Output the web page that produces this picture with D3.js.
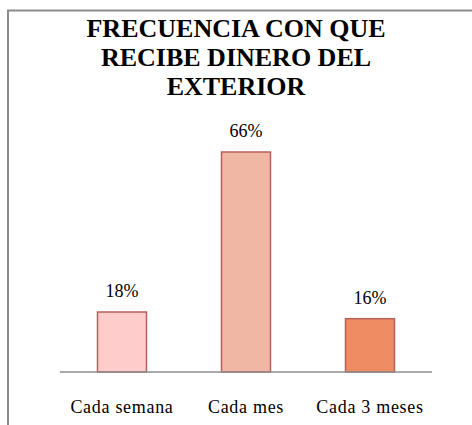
<!DOCTYPE html>
<html>
<head>
<meta charset="UTF-8">
<style>
  body { margin: 0; background: #fff; }
  svg { display: block; }
</style>
</head>
<body>
<svg id="chart" width="472" height="425"></svg>
<script src="https://d3js.org/d3.v7.min.js"></script>
<script>
// chart data
var categories = ["Cada semana", "Cada mes", "Cada 3 meses"];
var values = [18, 66, 16];
var labels = ["18%", "66%", "16%"];
var colors = ["#ffcccc", "#f0b7a5", "#f08c64"];
var titleLines = ["FRECUENCIA CON QUE", "RECIBE DINERO DEL", "EXTERIOR"];

var svg = d3.select("#chart");

// chart frame (only top and left edges show)
svg.append("path")
  .attr("d", "M8,425 V10.5 H472")
  .attr("fill", "none")
  .attr("stroke", "#8c8c8c")
  .attr("stroke-width", 2);

// title
titleLines.forEach(function(line, i) {
  svg.append("text")
    .attr("x", 236)
    .attr("y", 37 + i * 29)
    .attr("text-anchor", "middle")
    .style("font-family", "'Liberation Serif'")
    .attr("font-size", 26)
    .style("font-weight", "bold")
    .attr("fill", "#000")
    .text(line);
});

var x = d3.scaleBand()
  .domain(categories)
  .range([60, 432])
  .padding(0);

var y = d3.scaleLinear()
  .domain([0, 66])
  .range([372, 152]);

var barW = x.bandwidth() * 0.395;

// bars
svg.append("g").selectAll("rect")
  .data(values)
  .enter().append("rect")
    .attr("x", function(d, i) { return x(categories[i]) + x.bandwidth() / 2 - barW / 2; })
    .attr("y", function(d) { return y(d); })
    .attr("width", barW)
    .attr("height", function(d) { return y(0) - y(d); })
    .attr("fill", function(d, i) { return colors[i]; })
    .attr("stroke", "#b5605c")
    .attr("stroke-width", 1.5);

// baseline
svg.append("line")
  .attr("x1", 60).attr("x2", 432)
  .attr("y1", y(0)).attr("y2", y(0))
  .attr("stroke", "#8c8c8c")
  .attr("stroke-width", 1.5);

// value labels
values.forEach(function(v, i) {
  svg.append("text")
    .attr("x", x(categories[i]) + x.bandwidth() / 2)
    .attr("y", y(v) - 15)
    .attr("text-anchor", "middle")
    .style("font-family", "'Liberation Serif'")
    .attr("font-size", 18)
    .attr("fill", "#000")
    .text(labels[i]);
});

// category labels
categories.forEach(function(c) {
  svg.append("text")
    .attr("x", x(c) + x.bandwidth() / 2)
    .attr("y", 413)
    .attr("text-anchor", "middle")
    .style("font-family", "'Liberation Serif'")
    .attr("font-size", 18)
    .style("letter-spacing", "0.7px")
    .attr("fill", "#000")
    .text(c);
});
</script>
</body>
</html>
